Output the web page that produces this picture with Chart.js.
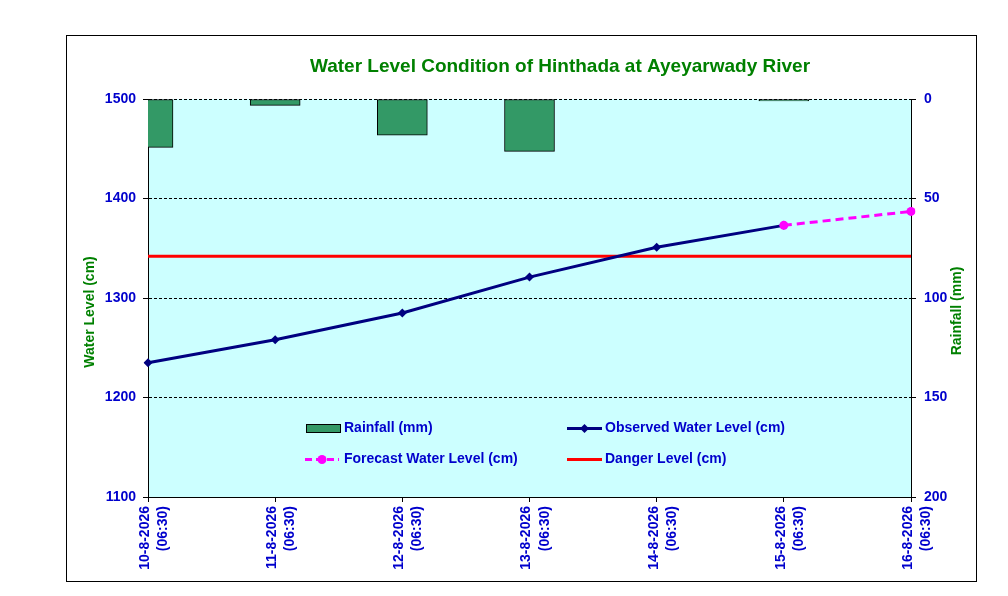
<!DOCTYPE html>
<html>
<head>
<meta charset="utf-8">
<title>Water Level Condition of Hinthada</title>
<script src="https://cdn.jsdelivr.net/npm/chart.js@4.4.1/dist/chart.umd.min.js"></script>
<style>
    html, body { margin: 0; padding: 0; background: #fff; }
    #wrap { position: relative; width: 1008px; height: 596px; }
</style>
</head>
<body>
<div id="wrap"><canvas id="wlChart"></canvas></div>
<script>
// Dates on the x axis (two lines each)
const dateLabels = [
    ['10-8-2026', '(06:30)'],
    ['11-8-2026', '(06:30)'],
    ['12-8-2026', '(06:30)'],
    ['13-8-2026', '(06:30)'],
    ['14-8-2026', '(06:30)'],
    ['15-8-2026', '(06:30)'],
    ['16-8-2026', '(06:30)']
];
const rainfall = [24.3, 3.2, 18.2, 26.3, 0, 1.0, 0];
const observedLevel = [1235, 1258, 1285, 1321, 1351, 1373, null];
const forecastLevel = [null, null, null, null, null, 1373, 1387];
const dangerLevel = [1342, 1342, 1342, 1342, 1342, 1342, 1342];
const levelTicks = [1100, 1200, 1300, 1400, 1500];
const rainTicks = [0, 50, 100, 150, 200];

const BLUE = '#0000CC';
const GREEN = '#008000';
const FONT = "'Liberation Sans', Arial, sans-serif";

// Fill the plot area and the page, draw frame, titles and legend
const decorPlugin = {
    id: 'decor',
    beforeDraw(chart) {
        const ctx = chart.ctx;
        const a = chart.chartArea;
        ctx.save();
        ctx.fillStyle = '#fff';
        ctx.fillRect(0, 0, chart.width, chart.height);
        ctx.fillStyle = '#CCFFFF';
        ctx.fillRect(a.left, a.top, a.right - a.left, a.bottom - a.top);
        ctx.restore();
    },
    afterDraw(chart) {
        const ctx = chart.ctx;
        const a = chart.chartArea;
        ctx.save();

        // outer frame
        ctx.strokeStyle = '#000';
        ctx.lineWidth = 1;
        ctx.strokeRect(66.5, 35.5, 910, 546);

        // chart title
        ctx.fillStyle = GREEN;
        ctx.font = 'bold 19px ' + FONT;
        ctx.textAlign = 'center';
        ctx.textBaseline = 'alphabetic';
        ctx.fillText('Water Level Condition of Hinthada at Ayeyarwady River', 560, 72);

        // axis titles
        ctx.font = 'bold 14px ' + FONT;
        ctx.textBaseline = 'middle';
        ctx.save();
        ctx.translate(90, 312);
        ctx.rotate(-Math.PI / 2);
        ctx.fillText('Water Level (cm)', 0, 0);
        ctx.restore();
        ctx.save();
        ctx.translate(957, 311);
        ctx.rotate(-Math.PI / 2);
        ctx.fillText('Rainfall (mm)', 0, 0);
        ctx.restore();

        // legend inside plot
        const x1 = a.left + 158, x2 = a.left + 419;
        const r1 = 428.5, r2 = 459.5;
        ctx.font = 'bold 14px ' + FONT;
        ctx.textAlign = 'left';
        ctx.fillStyle = BLUE;
        ctx.fillText('Rainfall (mm)', x1 + 38, r1);
        ctx.fillText('Observed Water Level (cm)', x2 + 38, r1);
        ctx.fillText('Forecast Water Level (cm)', x1 + 38, r2);
        ctx.fillText('Danger Level (cm)', x2 + 38, r2);

        // rainfall swatch
        ctx.fillStyle = '#339966';
        ctx.fillRect(x1 + 0.5, r1 - 4, 34, 8);
        ctx.strokeStyle = '#000';
        ctx.lineWidth = 1;
        ctx.strokeRect(x1 + 0.5, r1 - 4, 34, 8);

        // observed line + diamond
        ctx.strokeStyle = '#000080';
        ctx.lineWidth = 3;
        ctx.beginPath();
        ctx.moveTo(x2, r1);
        ctx.lineTo(x2 + 35, r1);
        ctx.stroke();
        ctx.fillStyle = '#000080';
        ctx.beginPath();
        ctx.moveTo(x2 + 17.5, r1 - 4.5);
        ctx.lineTo(x2 + 22, r1);
        ctx.lineTo(x2 + 17.5, r1 + 4.5);
        ctx.lineTo(x2 + 13, r1);
        ctx.closePath();
        ctx.fill();

        // forecast dashed + circle
        ctx.strokeStyle = '#FF00FF';
        ctx.setLineDash([7, 4]);
        ctx.beginPath();
        ctx.moveTo(x1 - 1, r2);
        ctx.lineTo(x1 + 33, r2);
        ctx.stroke();
        ctx.setLineDash([]);
        ctx.fillStyle = '#FF00FF';
        ctx.beginPath();
        ctx.arc(x1 + 16, r2, 4.5, 0, Math.PI * 2);
        ctx.fill();

        // danger line
        ctx.strokeStyle = '#FF0000';
        ctx.beginPath();
        ctx.moveTo(x2, r2);
        ctx.lineTo(x2 + 35, r2);
        ctx.stroke();

        ctx.restore();
    }
};

document.addEventListener('DOMContentLoaded', function() {
    Chart.defaults.font.family = FONT;
    const ctx = document.getElementById('wlChart').getContext('2d');

    new Chart(ctx, {
        data: {
            labels: dateLabels,
            datasets: [
                {
                    type: 'line',
                    label: 'Forecast Water Level (cm)',
                    data: forecastLevel,
                    yAxisID: 'y',
                    borderColor: '#FF00FF',
                    backgroundColor: '#FF00FF',
                    borderWidth: 3,
                    borderDash: [8, 5],
                    pointStyle: 'circle',
                    pointRadius: 4.5,
                    pointBorderWidth: 0,
                    tension: 0,
                    order: 1
                },
                {
                    type: 'line',
                    label: 'Observed Water Level (cm)',
                    data: observedLevel,
                    yAxisID: 'y',
                    borderColor: '#000080',
                    backgroundColor: '#000080',
                    borderWidth: 3,
                    pointStyle: 'rectRot',
                    pointRadius: 4.5,
                    pointBorderWidth: 0,
                    tension: 0,
                    order: 2
                },
                {
                    type: 'line',
                    label: 'Danger Level (cm)',
                    data: dangerLevel,
                    yAxisID: 'y',
                    borderColor: '#FF0000',
                    borderWidth: 3,
                    pointRadius: 0,
                    tension: 0,
                    order: 3
                },
                {
                    type: 'bar',
                    label: 'Rainfall (mm)',
                    data: rainfall,
                    yAxisID: 'y1',
                    backgroundColor: '#339966',
                    borderColor: '#000',
                    borderWidth: 1,
                    borderSkipped: false,
                    barThickness: 50,
                    order: 4
                }
            ]
        },
        options: {
            responsive: true,
            maintainAspectRatio: false,
            animation: false,
            devicePixelRatio: 1,
            layout: {
                padding: { top: 99, right: 32, bottom: 14, left: 66 }
            },
            plugins: {
                legend: { display: false },
                title: { display: false },
                tooltip: { enabled: false }
            },
            scales: {
                x: {
                    type: 'category',
                    offset: false,
                    afterFit: function(scale) { scale.height = 85; },
                    ticks: {
                        color: BLUE,
                        font: { size: 14, weight: 'bold', lineHeight: 1.3 },
                        minRotation: 90,
                        maxRotation: 90,
                        autoSkip: false,
                        padding: 4,
                        labelOffset: -3
                    },
                    grid: {
                        offset: false,
                        drawOnChartArea: false,
                        drawTicks: true,
                        tickLength: 5,
                        color: '#000'
                    },
                    border: { display: true, color: '#000', width: 1 }
                },
                y: {
                    type: 'linear',
                    position: 'left',
                    min: levelTicks[0],
                    max: levelTicks[levelTicks.length - 1],
                    afterFit: function(scale) { scale.width = 82; },
                    afterBuildTicks: function(scale) {
                        scale.ticks = levelTicks.map(v => ({ value: v }));
                    },
                    ticks: {
                        color: BLUE,
                        font: { size: 14, weight: 'bold' },
                        padding: 7,
                        callback: function(value) { return String(value); }
                    },
                    grid: {
                        color: '#000',
                        lineWidth: 1,
                        tickBorderDash: [],
                        tickLength: 5
                    },
                    border: { display: true, color: '#000', width: 1, dash: [3, 2] }
                },
                y1: {
                    type: 'linear',
                    position: 'right',
                    reverse: true,
                    min: rainTicks[0],
                    max: rainTicks[rainTicks.length - 1],
                    afterFit: function(scale) { scale.width = 65; },
                    afterBuildTicks: function(scale) {
                        scale.ticks = rainTicks.map(v => ({ value: v }));
                    },
                    ticks: {
                        color: BLUE,
                        font: { size: 14, weight: 'bold' },
                        padding: 8,
                        callback: function(value) { return String(value); }
                    },
                    grid: {
                        drawOnChartArea: false,
                        color: '#000',
                        tickLength: 5
                    },
                    border: { display: true, color: '#000', width: 1 }
                }
            }
        },
        plugins: [decorPlugin]
    });
});
</script>
</body>
</html>
